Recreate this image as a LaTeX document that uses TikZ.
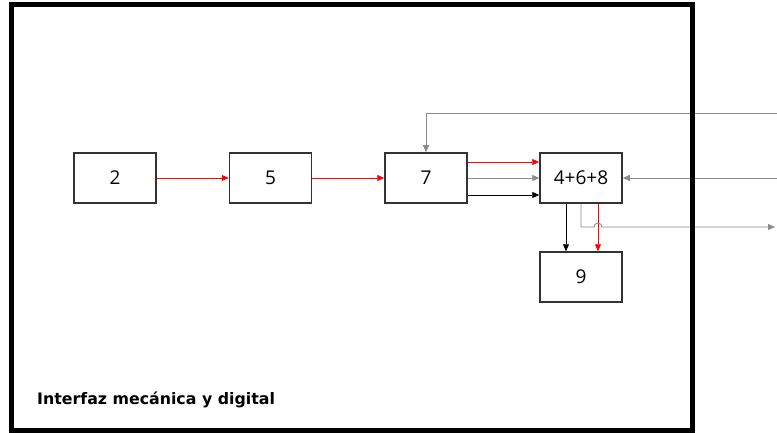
\documentclass[tikz,border=0pt]{standalone}
\usepackage{fontspec}
\setmainfont{Open Sans}
\newfontfamily\labfont{DejaVu Sans}
\usetikzlibrary{arrows.meta,calc}
\definecolor{boxc}{HTML}{333333}
\definecolor{grayc}{HTML}{8C8C8C}
\begin{document}
\begin{tikzpicture}[x=1pt,y=-1pt,
  blk/.style={draw=boxc,line width=1.5pt,minimum width=82pt,minimum height=50pt,inner sep=0pt,font=\fontsize{19}{22}\selectfont},
  conn/.style={line width=0.9pt,-{Triangle[length=7pt,width=6pt]}},
  redc/.style={conn,draw=red},
  grayl/.style={conn,draw=grayc},
  blackl/.style={conn,draw=black}]
\useasboundingbox (0,0) rectangle (777,433);
\fill[white] (0,0) rectangle (777,433);
\node[blk] (a2) at (115,178) {2};
\node[blk] (a5) at (270.5,178) {5};
\node[blk] (a7) at (426,178) {7};
\node[blk] (a468) at (581,178) {4+6+8};
\node[blk] (a9) at (581,277) {9};
\coordinate (r1) at (790,113);
\coordinate (r2) at (790,178);
\coordinate (r3) at (775,227);
\coordinate (h) at (581,227);
\draw[redc] (a2) -- (a5);
\draw[redc] (a5) -- (a7);
\draw[redc] ([yshift=16pt]a7.east) -- ([yshift=16pt]a468.west);
\draw[grayl] (a7.east) -- (a468.west);
\draw[blackl] ([yshift=-17pt]a7.east) -- ([yshift=-17pt]a468.west);
\draw[grayl] (r1) -| (a7.north);
\draw[grayl] (r2) -- (a468.east);
\draw[blackl] ([xshift=-15pt]a468.south) -- ([xshift=-15pt]a9.north);
\draw[redc] ([xshift=17pt]a468.south) -- ([xshift=17pt]a9.north);
\draw[grayl] (a468.south) -- (h) -- ++(13,0) arc[start angle=180,end angle=0,radius=4pt] -- (r3);
\node[anchor=base west,font=\labfont\bfseries\fontsize{15.8}{18}\selectfont,inner sep=0pt] (lab) at (37,404) {Interfaz mecánica y digital};
\draw[black,line width=5pt] (11.5,5) rectangle (692.5,430);
\end{tikzpicture}
\end{document}
